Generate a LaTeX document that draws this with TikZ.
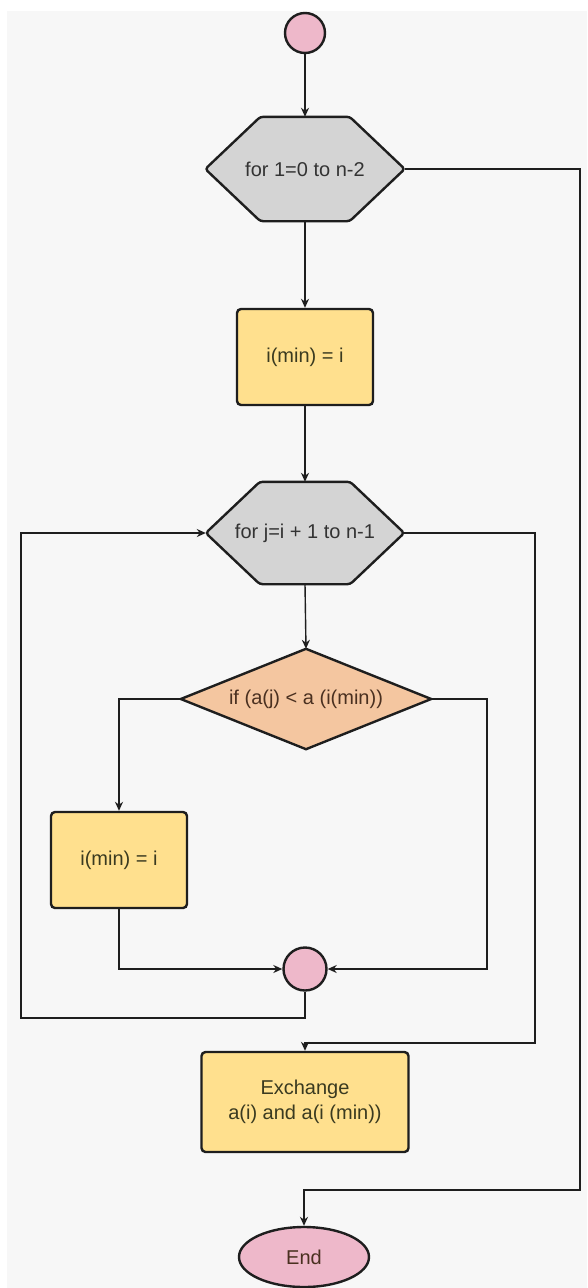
\documentclass[tikz,border=0pt]{standalone}
\usepackage{fontspec}
\setmainfont{Liberation Sans}
\usetikzlibrary{shapes.geometric,arrows.meta,calc}
\definecolor{bgc}{HTML}{F7F7F7}
\definecolor{hexc}{HTML}{D4D4D4}
\definecolor{boxc}{HTML}{FFE08E}
\definecolor{diac}{HTML}{F4C6A0}
\definecolor{pinkc}{HTML}{EEB8CA}
\definecolor{linec}{HTML}{1E1E1E}
\definecolor{boxtext}{HTML}{3A3A20}
\definecolor{diatext}{HTML}{4A3020}
\definecolor{hextext}{HTML}{333333}
\pgfdeclarelayer{bglayer}
\pgfdeclarelayer{shapelayer}
\pgfsetlayers{bglayer,shapelayer,main}
\tikzset{
  lbl/.style={font=\fontsize{20}{25}\selectfont, text=linec, inner sep=0pt, align=center},
  frame/.style={draw=linec, line width=2.4pt},
  holder/.style={lbl, rectangle, inner sep=0pt, outer sep=1.2pt},
  proc/.style={lbl, frame, fill=boxc, rounded corners=4pt, text=boxtext},
  dot/.style={frame, circle, fill=pinkc, minimum size=40pt, inner sep=0pt},
  term/.style={lbl, frame, ellipse, fill=pinkc, minimum width=130pt, minimum height=60pt, text=diatext},
  conn/.style={draw=linec, line width=1.4pt},
  arr/.style={conn, -{Stealth[length=9pt,width=8pt]}},
}
\newcommand\myhex[2]{%
  \begin{pgfonlayer}{shapelayer}
  \draw[frame, fill=hexc, rounded corners=3pt] (#1.west) -- ([xshift=#2]#1.north west) -- ([xshift=-#2]#1.north east) -- (#1.east) -- ([xshift=-#2]#1.south east) -- ([xshift=#2]#1.south west) -- cycle;
  \end{pgfonlayer}}
\begin{document}
\begin{tikzpicture}[x=1pt,y=-1pt]
\useasboundingbox (0,0) rectangle (587,1288);
\begin{pgfonlayer}{bglayer}
\fill[white] (0,0) rectangle (587,1288);
\fill[bgc] (7,11) rectangle (587,1288);
\end{pgfonlayer}

\node[dot] (s) at (305,33) {};
\node[holder, text=hextext, minimum width=197pt, minimum height=102pt] (h1) at (305,169) {for 1=0 to n-2};
\myhex{h1}{55pt}
\node[proc, minimum width=136pt, minimum height=96pt] (b1) at (305,357) {i(min) = i};
\node[holder, text=hextext, minimum width=196pt, minimum height=100pt] (h2) at (305,533) {for j=i + 1 to n-1};
\myhex{h2}{54pt}
\node[holder, text=diatext, minimum width=248pt, minimum height=98pt] (d) at (306,699) {if (a(j) < a (i(min))};
\begin{pgfonlayer}{shapelayer}
\draw[frame, fill=diac] (d.west) -- (d.north) -- (d.east) -- (d.south) -- cycle;
\end{pgfonlayer}
\node[proc, minimum width=136pt, minimum height=96pt] (b2) at (119,860) {i(min) = i};
\node[dot, minimum size=43pt] (m) at (305,969) {};
\node[proc, minimum width=207pt, minimum height=100pt] (b3) at (305,1102) {Exchange\\a(i) and a(i (min))};
\node[term] (e) at (304,1257) {End};

\coordinate (dr) at (487,900);
\coordinate (lb) at (21,1018);
\coordinate (rr) at (535,1043);
\coordinate (orr) at (580,1190);

\draw[arr] (s) -- (h1.north);
\draw[arr] (h1.south) -- (b1.north);
\draw[arr] (b1.south) -- (h2.north);
\draw[arr] (h2.south) -- (d.north);
\draw[arr] (d.west) -| (b2.north);
\draw[arr] (d.east) -| (dr) |- (m.east);
\draw[arr] (b2.south) |- (m.west);
\draw[arr] (m.south) |- (lb) |- (h2.west);
\draw[arr] (h2.east) -| (rr) -| (b3.north);
\draw[arr] (h1.east) -| (orr) -| (e.north);
\end{tikzpicture}
\end{document}
